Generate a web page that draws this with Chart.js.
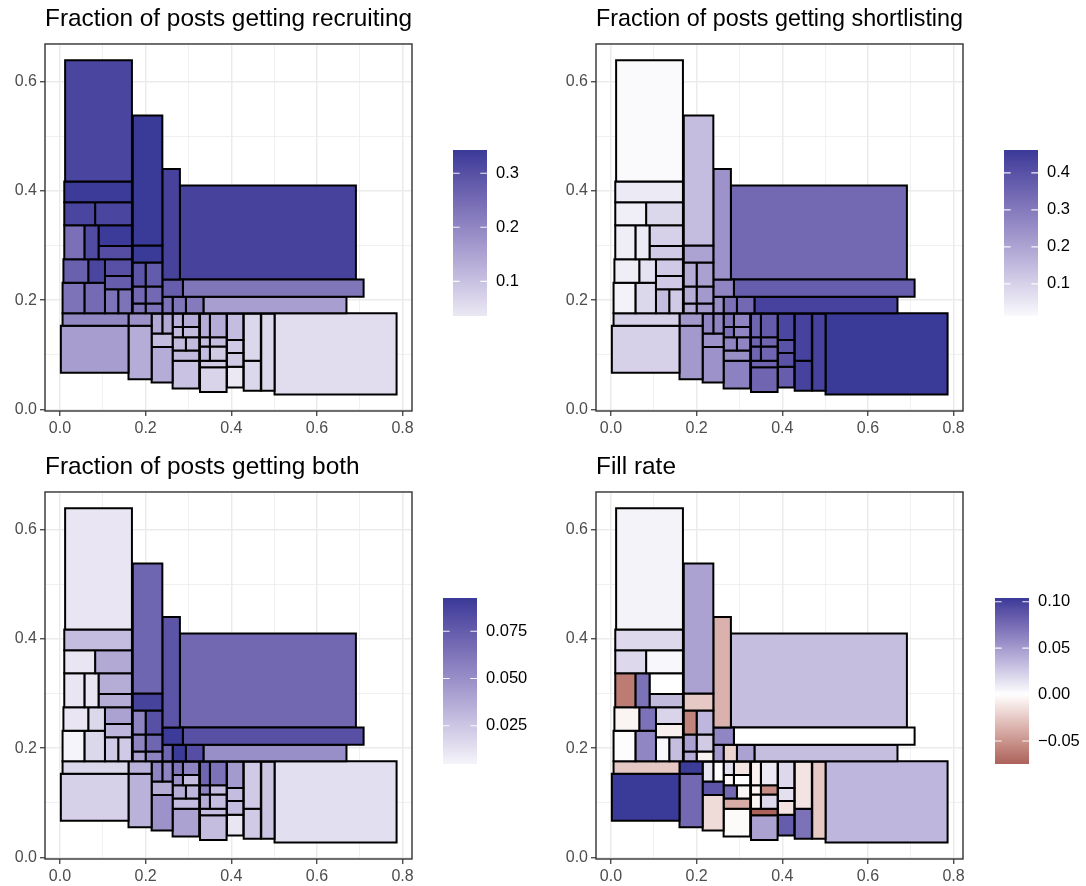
<!DOCTYPE html>
<html>
<head>
<meta charset="utf-8">
<title>Posts mosaic</title>
<script src="https://cdn.jsdelivr.net/npm/chart.js@4.4.1/dist/chart.umd.min.js"></script>
<style>
  body { margin: 0; background: #fff; }
  #wrap { position: relative; width: 1086px; height: 886px; }
  canvas { position: absolute; }
</style>
</head>
<body>
<div id="wrap">
  <canvas id="cRecruit" width="543" height="448" style="left:0;top:0"></canvas>
  <canvas id="cShort" width="535" height="448" style="left:551px;top:0"></canvas>
  <canvas id="cBoth" width="543" height="438" style="left:0;top:448px"></canvas>
  <canvas id="cFill" width="535" height="438" style="left:551px;top:448px"></canvas>
</div>
<script>
// rectangles (same layout in every panel)
const rectX0 = [0.012,0.010,0.010,0.082,0.010,0.057,0.090,0.090,0.008,0.066,0.105,0.105,0.006,0.057,0.105,0.136,0.006,0.002,
  0.170,0.170,0.170,0.200,0.170,0.200,0.170,0.200,0.160,0.160,
  0.239,0.239,0.287,0.280,0.239,0.263,0.294,0.335,
  0.214,0.239,0.214,0.214,0.263,0.287,0.263,0.287,0.263,0.294,0.263,0.263,
  0.327,0.350,0.327,0.350,0.327,0.350,0.327,0.327,
  0.390,0.390,0.390,0.390,0.429,0.429,0.470,0.501];
const rectX1 = [0.168,0.168,0.082,0.168,0.057,0.090,0.168,0.168,0.066,0.105,0.168,0.168,0.057,0.105,0.136,0.168,0.160,0.160,
  0.239,0.239,0.200,0.239,0.200,0.239,0.200,0.239,0.214,0.214,
  0.280,0.287,0.709,0.691,0.263,0.294,0.335,0.669,
  0.239,0.263,0.263,0.263,0.287,0.325,0.287,0.325,0.294,0.325,0.325,0.325,
  0.350,0.389,0.350,0.389,0.350,0.389,0.389,0.389,
  0.428,0.428,0.428,0.428,0.469,0.469,0.501,0.786];
const rectY0 = [0.417,0.379,0.337,0.337,0.275,0.275,0.299,0.275,0.232,0.232,0.244,0.220,0.176,0.176,0.176,0.176,0.153,0.067,
  0.300,0.269,0.225,0.225,0.194,0.194,0.176,0.176,0.153,0.055,
  0.238,0.206,0.206,0.238,0.176,0.176,0.176,0.176,
  0.139,0.139,0.114,0.049,0.151,0.151,0.132,0.132,0.108,0.108,0.089,0.038,
  0.132,0.132,0.115,0.115,0.089,0.089,0.077,0.032,
  0.127,0.103,0.078,0.040,0.089,0.034,0.034,0.027];
const rectY1 = [0.639,0.417,0.379,0.379,0.337,0.337,0.337,0.299,0.275,0.275,0.275,0.244,0.232,0.232,0.220,0.220,0.176,0.153,
  0.538,0.300,0.269,0.269,0.225,0.225,0.194,0.194,0.176,0.153,
  0.440,0.238,0.238,0.410,0.206,0.206,0.206,0.206,
  0.175,0.175,0.139,0.114,0.175,0.175,0.151,0.151,0.132,0.132,0.108,0.089,
  0.175,0.175,0.132,0.132,0.115,0.115,0.089,0.077,
  0.175,0.127,0.103,0.078,0.175,0.089,0.175,0.176];

// fill values per panel
const recruiting = [0.32,0.34,0.32,0.32,0.24,0.31,0.34,0.305,0.27,0.32,0.30,0.275,0.235,0.25,0.235,0.235,0.20,0.16,
  0.343,0.343,0.29,0.28,0.255,0.255,0.235,0.235,0.18,0.135,
  0.325,0.275,0.23,0.325,0.235,0.23,0.223,0.158,
  0.14,0.14,0.106,0.134,0.127,0.134,0.11,0.11,0.11,0.11,0.11,0.098,
  0.134,0.134,0.106,0.106,0.106,0.086,0.086,0.069,
  0.106,0.086,0.086,0.036,0.063,0.063,0.063,0.055];
const shortlisting = [0.013,0.046,0.037,0.085,0.039,0.046,0.10,0.115,0.039,0.065,0.115,0.115,0.028,0.085,0.143,0.115,0.10,0.10,
  0.143,0.203,0.18,0.208,0.18,0.226,0.18,0.226,0.226,0.226,
  0.24,0.273,0.37,0.342,0.25,0.32,0.342,0.44,
  0.273,0.273,0.24,0.24,0.31,0.273,0.32,0.273,0.273,0.273,0.25,0.28,
  0.35,0.375,0.35,0.35,0.35,0.35,0.35,0.35,
  0.43,0.40,0.40,0.37,0.44,0.44,0.44,0.462];
const both = [0.011,0.029,0.011,0.038,0.011,0.011,0.036,0.036,0.011,0.017,0.041,0.032,0.0048,0.017,0.023,0.023,0.017,0.02,
  0.07,0.088,0.055,0.081,0.055,0.07,0.041,0.055,0.034,0.034,
  0.079,0.092,0.081,0.069,0.07,0.0926,0.082,0.05,
  0.055,0.055,0.036,0.048,0.062,0.055,0.048,0.029,0.036,0.032,0.029,0.041,
  0.07,0.064,0.055,0.029,0.036,0.029,0.029,0.029,
  0.045,0.029,0.029,0.011,0.023,0.023,0.026,0.014];
const fillRate = [0.006,0.019,0.019,0.004,-0.062,0.072,0,0.034,-0.005,0.072,0.021,-0.007,-0.001,0.061,0.004,0.032,-0.026,0.104,
  0.046,-0.025,-0.058,0.036,0.047,0.026,0.041,-0.006,0.103,0.077,
  -0.036,0.061,0,0.032,0.051,-0.02,0.046,0.032,
  0.0125,0,0.088,-0.016,0.015,-0.0125,-0.004,0,0.077,-0.004,-0.038,-0.002,
  -0.006,0.0104,-0.005,-0.054,-0.005,0.019,-0.0748,0.046,
  0.019,0.015,-0.0125,0.084,-0.0125,0.072,-0.025,0.036];

// axes
const xMajor = [0, 0.2, 0.4, 0.6, 0.8];
const xMinor = [0.1, 0.3, 0.5, 0.7];
const yMajor = [0, 0.2, 0.4, 0.6];
const yMinor = [0.1, 0.3, 0.5];

// colour bar ticks
const recruitBarTicks = [0.1, 0.2, 0.3];
const recruitBarLabels = ['0.1', '0.2', '0.3'];
const shortBarTicks = [0.1, 0.2, 0.3, 0.4];
const shortBarLabels = ['0.1', '0.2', '0.3', '0.4'];
const bothBarTicks = [0.025, 0.05, 0.075];
const bothBarLabels = ['0.025', '0.050', '0.075'];
const fillBarTicks = [-0.05, 0, 0.05, 0.10];
const fillBarLabels = ['\u22120.05', '0.00', '0.05', '0.10'];

const FONT = "'Liberation Sans', Arial, Helvetica, sans-serif";
const LOW = '#832424', MID = '#ffffff', HIGH = '#3A3A98';

// CIELAB interpolation (like scales::div_gradient_pal)
function toLin(c) { c /= 255; return c <= 0.04045 ? c / 12.92 : Math.pow((c + 0.055) / 1.055, 2.4); }
function toSrgb(c) {
  const v = c <= 0.0031308 ? 12.92 * c : 1.055 * Math.pow(c, 1 / 2.4) - 0.055;
  return Math.round(Math.max(0, Math.min(1, v)) * 255);
}
function hexToLab(hex) {
  const r = toLin(parseInt(hex.slice(1, 3), 16));
  const g = toLin(parseInt(hex.slice(3, 5), 16));
  const b = toLin(parseInt(hex.slice(5, 7), 16));
  const X = (0.4124 * r + 0.3576 * g + 0.1805 * b) / 0.95047;
  const Y = 0.2126 * r + 0.7152 * g + 0.0722 * b;
  const Z = (0.0193 * r + 0.1192 * g + 0.9505 * b) / 1.08883;
  const f = t => t > 0.008856 ? Math.cbrt(t) : 7.787 * t + 16 / 116;
  const fx = f(X), fy = f(Y), fz = f(Z);
  return [116 * fy - 16, 500 * (fx - fy), 200 * (fy - fz)];
}
function labToCss([L, a, b]) {
  const fy = (L + 16) / 116, fx = fy + a / 500, fz = fy - b / 200;
  const inv = t => t * t * t > 0.008856 ? t * t * t : (t - 16 / 116) / 7.787;
  const X = 0.95047 * inv(fx), Y = inv(fy), Z = 1.08883 * inv(fz);
  const r = 3.2406 * X - 1.5372 * Y - 0.4986 * Z;
  const g = -0.9689 * X + 1.8758 * Y + 0.0415 * Z;
  const bl = 0.0557 * X - 0.2040 * Y + 1.0570 * Z;
  return `rgb(${toSrgb(r)},${toSrgb(g)},${toSrgb(bl)})`;
}
const labLow = hexToLab(LOW), labMid = hexToLab(MID), labHigh = hexToLab(HIGH);
function scaleColour(v, lim) {
  const t = Math.min(1, Math.abs(v) / lim);
  const end = v >= 0 ? labHigh : labLow;
  return labToCss(labMid.map((m, k) => m + (end[k] - m) * t));
}

// border box + colour bar
const panelDecor = {
  id: 'panelDecor',
  afterDatasetsDraw(chart) {
    const { ctx, chartArea: a } = chart;
    ctx.save();
    ctx.strokeStyle = '#333333';
    ctx.lineWidth = 1.4;
    ctx.strokeRect(a.left, a.top, a.right - a.left, a.bottom - a.top);
    ctx.restore();
  },
  afterDraw(chart, args, o) {
    const ctx = chart.ctx;
    const top = 150, h = 166, w = 34, left = o.left;
    const yOf = v => top + (o.vmax - v) / (o.vmax - o.vmin) * h;
    ctx.save();
    const grad = ctx.createLinearGradient(0, top, 0, top + h);
    for (let k = 0; k <= 40; k++) {
      const v = o.vmax - (o.vmax - o.vmin) * k / 40;
      grad.addColorStop(k / 40, scaleColour(v, o.lim));
    }
    ctx.fillStyle = grad;
    ctx.fillRect(left, top, w, h);
    ctx.strokeStyle = 'rgba(255,255,255,0.9)';
    ctx.lineWidth = 1.1;
    ctx.fillStyle = '#000';
    ctx.font = `16.5px ${FONT}`;
    ctx.textBaseline = 'middle';
    ctx.textAlign = 'left';
    o.ticks.forEach((v, i) => {
      const y = yOf(v);
      ctx.beginPath();
      ctx.moveTo(left, y); ctx.lineTo(left + 6.7, y);
      ctx.moveTo(left + w - 6.7, y); ctx.lineTo(left + w, y);
      ctx.stroke();
      ctx.fillText(o.labels[i], left + w + 9, y);
    });
    ctx.restore();
  }
};

function axisOpts(min, max, majors, minors, fit) {
  const isMajor = v => majors.some(m => Math.abs(m - v) < 1e-9);
  return {
    type: 'linear',
    min: min,
    max: max,
    afterBuildTicks: s => { s.ticks = majors.concat(minors).sort((a, b) => a - b).map(v => ({ value: v })); },
    afterFit: fit,
    ticks: {
      callback: v => isMajor(v) ? v.toFixed(1) : '',
      color: '#4d4d4d',
      font: { family: FONT, size: 16 },
      padding: 3,
      autoSkip: false,
      maxRotation: 0
    },
    grid: {
      color: '#ebebeb',
      lineWidth: c => (c.tick && isMajor(c.tick.value)) ? 1.5 : 0.75,
      tickColor: c => (c.tick && isMajor(c.tick.value)) ? '#333333' : 'rgba(0,0,0,0)',
      tickLength: 5,
      tickWidth: 1.2
    },
    border: { display: false }
  };
}

function buildPanel(id, title, vals, barLeft, barTicks, barLabels) {
  const canvas = document.getElementById(id);
  const w = canvas.width, h = canvas.height;
  const vmin = Math.min(...vals), vmax = Math.max(...vals);
  const lim = Math.max(Math.abs(vmin), Math.abs(vmax));

  const datasets = rectX0.map((x0, i) => ({
    data: [
      { x: x0, y: rectY0[i] }, { x: rectX1[i], y: rectY0[i] },
      { x: rectX1[i], y: rectY1[i] }, { x: x0, y: rectY1[i] }, { x: x0, y: rectY0[i] }
    ],
    showLine: true,
    fill: 'shape',
    backgroundColor: scaleColour(vals[i], lim),
    borderColor: '#000000',
    borderWidth: 2,
    borderJoinStyle: 'miter',
    borderCapStyle: 'square',
    pointRadius: 0,
    tension: 0
  }));

  return new Chart(canvas, {
    type: 'scatter',
    data: { datasets: datasets },
    options: {
      responsive: false,
      animation: false,
      events: [],
      layout: { padding: { left: 0, top: 0, right: w - 412, bottom: 0 } },
      plugins: {
        legend: { display: false },
        tooltip: { enabled: false },
        title: {
          display: true,
          text: title,
          align: 'start',
          fullSize: false,
          color: '#000',
          font: { family: FONT, size: 24.4, weight: 'normal', lineHeight: 1.2 },
          padding: { top: 4.5, bottom: 10.2 }
        },
        panelDecor: { left: barLeft, vmin: vmin, vmax: vmax, lim: lim, ticks: barTicks, labels: barLabels }
      },
      scales: {
        x: axisOpts(-0.035, 0.822, xMajor, xMinor, s => { s.height = h - 411; }),
        y: axisOpts(-0.003, 0.669, yMajor, yMinor, s => { s.width = 45; })
      }
    },
    plugins: [panelDecor]
  });
}

buildPanel('cRecruit', 'Fraction of posts getting recruiting', recruiting, 453, recruitBarTicks, recruitBarLabels);
buildPanel('cShort', 'Fraction of posts getting shortlisting', shortlisting, 453, shortBarTicks, shortBarLabels);
buildPanel('cBoth', 'Fraction of posts getting both', both, 443, bothBarTicks, bothBarLabels);
buildPanel('cFill', 'Fill rate', fillRate, 444, fillBarTicks, fillBarLabels);
</script>
</body>
</html>
